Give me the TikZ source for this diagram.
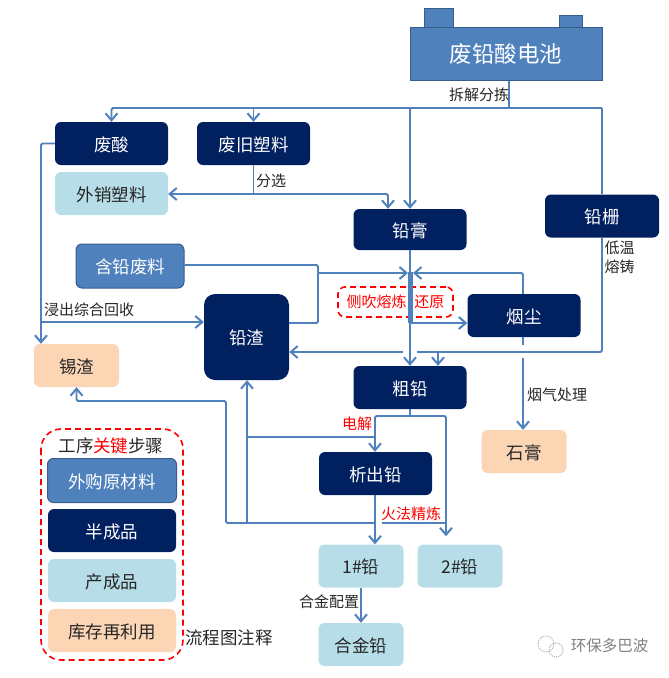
\documentclass[tikz,border=0pt]{standalone}
\usepackage{fontspec}
\setmainfont{Noto Sans CJK SC}
\usepackage{tikz}
\usetikzlibrary{calc,arrows.meta}
\definecolor{mynavy}{RGB}{0, 32, 96}
\definecolor{myblue}{RGB}{79, 129, 189}
\definecolor{myedge}{RGB}{56, 93, 138}
\definecolor{mylight}{RGB}{183, 222, 232}
\definecolor{mypeach}{RGB}{252, 213, 181}
\definecolor{mytext}{RGB}{38, 38, 38}
\newcommand{\boxfont}{\fontsize{17.5}{20}\selectfont}
\newcommand{\labelfont}{\fontsize{15}{19}\selectfont}
\tikzset{>={Straight Barb[length=7pt,width=12pt,line width=2pt]}}
\tikzset{
  base/.style = {rounded corners=6pt, inner sep=0pt, font=\boxfont, text height=17pt},
  navybox/.style = {base, fill=mynavy, text=white},
  bluebox/.style = {base, fill=myblue, draw=myedge, line width=1pt, text=white},
  lightbox/.style = {base, fill=mylight, text=mytext},
  peachbox/.style = {base, fill=mypeach, text=mytext},
  wide/.style = {minimum width=113, minimum height=43},
  short/.style = {minimum width=85, minimum height=43},
  legend/.style = {minimum width=128, minimum height=43},
  flow/.style = {draw=myblue, line width=1.8pt, rounded corners=1.5pt},
  note/.style = {font=\labelfont, text=mytext, inner sep=0pt},
  rednote/.style = {note, text=red},
  reddash/.style = {draw=red, line width=1.6pt, dash pattern=on 6pt off 4pt}
}
\begin{document}
\begin{tikzpicture}[x=1pt, y=-1pt]
\useasboundingbox (0,0) rectangle (669,678);
% battery
\node[fill=myblue, draw=myedge, line width=1pt, minimum width=29, minimum height=20, inner sep=0pt] (termL) at (438.5,18) {};
\node[fill=myblue, draw=myedge, line width=1pt, minimum width=23, minimum height=13, inner sep=0pt] (termR) at (570.5,21.5) {};
\node[fill=myblue, draw=myedge, line width=1pt, minimum width=192, minimum height=53, inner sep=0pt, text=white, font=\fontsize{22.5}{26}\selectfont] (battery) at (506,53.5) {废铅酸电池};
% main boxes
\node[navybox, wide] (acid) at (111.5,143.5) {废酸};
\node[navybox, wide] (plastic) at (253.5,143.5) {废旧塑料};
\node[lightbox, wide] (sold) at (111.5,193.5) {外销塑料};
\node[bluebox, minimum width=108, minimum height=44] (scrap) at (130,266) {含铅废料};
\node[navybox, minimum width=85, minimum height=86, rounded corners=11pt] (slag) at (246.5,337) {铅渣};
\node[peachbox, short] (tin) at (76.5,365.5) {锡渣};
\node[navybox, wide, minimum height=41] (paste) at (410,229.5) {铅膏};
\node[navybox, wide, minimum width=114] (grid) at (602,216) {铅栅};
\node[navybox, wide] (dust) at (524,315.5) {烟尘};
\node[navybox, wide] (crude) at (410,387.5) {粗铅};
\node[navybox, wide] (refined) at (375.5,473.5) {析出铅};
\node[peachbox, short] (gypsum) at (524,451.5) {石膏};
\node[lightbox, short] (leadA) at (361,566) {1\#铅};
\node[lightbox, short] (leadB) at (460,566) {2\#铅};
\node[lightbox, short] (alloy) at (361,644.5) {合金铅};
% red process note
\node[rednote, reddash, rounded corners=7pt, minimum width=115, minimum height=30] (smelt) at (395.5,302) {侧吹熔炼\hspace{8pt}还原};
% junctions
\coordinate (top) at (509,108);
\coordinate (topL) at (111.5,108);
\coordinate (topM) at (253.5,108);
\coordinate (topP) at (410,108);
\coordinate (topR) at (602,108);
\coordinate (sort) at (253.5,194);
\coordinate (sortR) at (388,194);
\coordinate (leftA) at (41,143.5);
\coordinate (leftB) at (41,322);
\coordinate (leftC) at (41,344);
\coordinate (scrapR) at (318,265);
\coordinate (scrapM) at (318,273);
\coordinate (scrapB) at (318,323);
\coordinate (slagR) at (289,323);
\coordinate (thickT) at (410,272);
\coordinate (thickB) at (410,323);
\coordinate (thickL) at (408,273);
\coordinate (thickE) at (413,273);
\coordinate (dustT) at (523,273);
\coordinate (gridB) at (602,352);
\coordinate (jumpR) at (417,352);
\coordinate (jumpL) at (403,352);
\coordinate (crudeIn) at (438,352);
\coordinate (gasA) at (523,345);
\coordinate (gasB) at (523,358);
\coordinate (split) at (410,416);
\coordinate (splitL) at (375,416);
\coordinate (splitR) at (446,416);
\coordinate (elecL) at (247,437);
\coordinate (elecR) at (375,437);
\coordinate (lowL) at (226,523);
\coordinate (lowM) at (247,523);
\coordinate (lowR) at (375,523);
\coordinate (fireL) at (382,523);
\coordinate (fireR) at (446,523);
\coordinate (backA) at (226,401);
\coordinate (backB) at (76.5,401);
% connectors from the battery
\draw[flow] (battery.south -| top) -- (top);
\draw[flow, ->] (topR) -- (topL) -- (acid.north);
\draw[flow, ->] (topM) -- (plastic.north);
\draw[flow, ->] (topP) -- (paste.north);
\draw[flow] (topR) -- (grid.north);
\draw[flow] (plastic.south) -- (sort);
\draw[flow, ->] (sort) -- (sort -| sold.east);
\draw[flow, ->] (sort) -- (sortR) -- (paste.north -| sortR);
% acid and scrap
\draw[flow, ->] (acid.west) -- (leftA) -- (tin.north -| leftC);
\draw[flow, ->] (leftB) -- (leftB -| slag.west);
\draw[flow] (scrap.east |- scrapR) -- (scrapR) -- (scrapB) -- (slagR);
\draw[flow, ->] (scrapM) -- (thickL);
% paste, dust and crude lead
\draw[flow, ->] (paste.south) -- (crude.north);
\draw[draw=myblue, line width=5pt] (thickT) -- (thickB);
\draw[flow, ->] (dust.north -| dustT) -- (dustT) -- (thickE);
\draw[flow, ->] (thickB) -- (thickB -| dust.west);
\draw[flow] (dust.south -| gasA) -- (gasA);
\draw[flow, ->] (gasB) -- (gasB |- gypsum.north);
\draw[flow] (grid.south) -- (gridB) -- (jumpR);
\draw[flow, ->] (jumpL) -- (jumpL -| slag.east);
\draw[flow, ->] (crudeIn) -- (crude.north -| crudeIn);
% refining
\draw[flow] (crude.south) -- (split);
\draw[flow, ->] (split) -- (splitL) -- (refined.north -| splitL);
\draw[flow, ->] (split) -- (splitR) -- ($(leadB.north -| splitR)+(0,-8)$);
\draw[flow] (elecL) -- (elecR);
\draw[flow, ->] (refined.south -| lowR) -- (leadA.north -| lowR);
\draw[flow] (fireL) -- (fireR);
\draw[flow, ->] (lowM) -- (slag.south -| lowM);
\draw[flow, ->] (lowR) -- (lowL) -- (backA) -- (backB) -- (tin.south);
\draw[flow, ->] (leadA.south) -- (alloy.north);
% labels
\node[note] (noteA) at (479,95) {拆解分拣};
\node[note] (noteB) at (271,181) {分选};
\node[note] (noteC) at (89,310) {浸出综合回收};
\node[note, align=left] (noteD) at (619.5,257.5) {低温\\熔铸};
\node[note] (noteE) at (557,395) {烟气处理};
\node[rednote] (noteF) at (357,424) {电解};
\node[rednote] (noteG) at (411,514) {火法精炼};
\node[note] (noteH) at (329,602) {合金配置};
% legend
\draw[reddash, rounded corners=20pt] (41,429) rectangle (183,660);
\node[font=\boxfont, text=mytext] (legendT) at (111,446) {工序{\color{red}关键}步骤};
\node[bluebox, minimum width=129, minimum height=44] (legendA) at (112,480.5) {外购原材料};
\node[navybox, legend] (legendB) at (112,530.5) {半成品};
\node[lightbox, legend] (legendC) at (112,580.5) {产成品};
\node[peachbox, legend] (legendD) at (112,630.5) {库存再利用};
\node[font=\boxfont, text=mytext] (legendN) at (229,638) {流程图注释};
% watermark
\draw[gray!60, densely dotted, line width=1pt] (546,644) circle (8);
\draw[gray!60, densely dotted, line width=1pt] (556,650) circle (7);
\node[font=\fontsize{15.5}{18}\selectfont, text=gray] (mark) at (609.5,646) {环保多巴波};
\end{tikzpicture}
\end{document}
